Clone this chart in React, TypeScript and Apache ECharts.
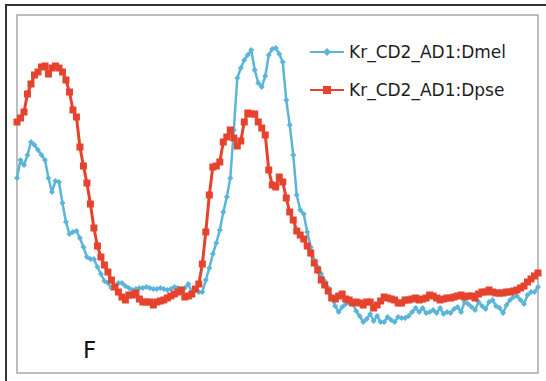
import React, { useEffect, useRef } from "react";
import * as echarts from "echarts";

const seriesNames = ["Kr_CD2_AD1:Dmel", "Kr_CD2_AD1:Dpse"];

const dmel = [
  195, 213, 208, 218, 231, 228, 223, 218, 213, 195,
  181, 192, 191, 170, 151, 139, 141, 142, 135, 126,
  116, 114, 114, 106, 99, 92, 90, 85, 87, 90,
  90, 87, 85, 83, 84, 85, 85, 86, 85, 84,
  84, 85, 84, 83, 84, 86, 85, 81, 85, 89,
  81, 83, 81, 81, 93, 105, 119, 130, 143, 161,
  176, 195, 243, 295, 305, 313, 318, 323, 303, 290,
  286, 297, 318, 324, 325, 319, 311, 273, 248, 218,
  178, 163, 159, 141, 126, 113, 106, 99, 92, 85,
  76, 67, 61, 66, 69, 70, 69, 62, 57, 51,
  54, 59, 52, 57, 51, 51, 56, 53, 51, 56,
  55, 55, 57, 61, 65, 61, 65, 60, 61, 63,
  60, 65, 59, 61, 60, 64, 66, 61, 71, 69,
  66, 63, 71, 67, 64, 71, 73, 67, 65, 60,
  68, 73, 76, 77, 73, 69, 78, 81, 81, 86,
];

const dpse = [
  251, 255, 261, 279, 289, 298, 301, 306, 307, 299,
  305, 307, 305, 301, 293, 281, 263, 256, 226, 207,
  190, 169, 145, 127, 116, 108, 101, 93, 86, 81,
  76, 73, 78, 78, 80, 74, 71, 71, 71, 68,
  71, 72, 73, 75, 77, 79, 81, 83, 76, 77,
  79, 84, 89, 109, 141, 178, 206, 207, 211, 231,
  236, 243, 235, 227, 232, 251, 260, 259, 259, 251,
  245, 238, 203, 188, 186, 196, 191, 175, 161, 153,
  142, 138, 134, 127, 120, 110, 103, 93, 88, 82,
  75, 74, 77, 79, 74, 73, 70, 71, 70, 68,
  71, 71, 65, 68, 72, 76, 75, 74, 73, 70,
  70, 73, 73, 74, 75, 73, 74, 75, 78, 77,
  75, 73, 74, 75, 75, 76, 77, 78, 76, 77,
  77, 75, 79, 81, 81, 83, 81, 80, 80, 80,
  81, 81, 82, 83, 85, 87, 91, 94, 97, 100,
];

const positions = dmel.map((_, i) => String(i + 1));

export default function App() {
  const ref = useRef<HTMLDivElement>(null);
  useEffect(() => {
    document.body.style.margin = "0";
    const chart = echarts.init(ref.current!, null, { renderer: "svg" });
    chart.setOption({
      animation: false,
      backgroundColor: "#ffffff",
      grid: {
        left: 17,
        top: 15,
        right: 8,
        bottom: 8,
        show: true,
        borderColor: "#a8a8a8",
        borderWidth: 1.5,
        backgroundColor: "transparent",
      },
      xAxis: {
        type: "category",
        data: positions,
        boundaryGap: false,
        axisLine: { show: false },
        axisTick: { show: false },
        axisLabel: { show: false },
        splitLine: { show: false },
      },
      yAxis: {
        type: "value",
        min: 0,
        max: 358,
        axisLine: { show: false },
        axisTick: { show: false },
        axisLabel: { show: false },
        splitLine: { show: false },
      },
      legend: {
        orient: "vertical",
        left: 304,
        top: 37,
        itemWidth: 34,
        itemHeight: 10,
        itemGap: 18,
        textStyle: {
          fontFamily: "DejaVu Sans",
          fontSize: 17,
          color: "#1e1e1e",
          lineHeight: 20,
        },
        data: seriesNames,
      },
      graphic: [
        {
          type: "rect",
          shape: { x: 6, y: 5, width: 620, height: 420 },
          style: { fill: "none", stroke: "#333333", lineWidth: 2 },
          silent: true,
        },
        {
          type: "text",
          x: 83,
          y: 350,
          style: {
            text: "F",
            fontFamily: "DejaVu Sans",
            fontSize: 23,
            fill: "#111111",
            verticalAlign: "middle",
            align: "left",
          },
        },
      ],
      series: [
        {
          name: seriesNames[0],
          type: "line",
          data: dmel,
          symbol: "diamond",
          symbolSize: 6,
          showAllSymbol: true,
          lineStyle: { color: "#5ab5d8", width: 2.5 },
          itemStyle: { color: "#5ab5d8" },
        },
        {
          name: seriesNames[1],
          type: "line",
          data: dpse,
          symbol: "rect",
          symbolSize: 7,
          showAllSymbol: true,
          lineStyle: { color: "#e6432e", width: 3 },
          itemStyle: { color: "#e6432e" },
        },
      ],
    });
    return () => chart.dispose();
  }, []);
  return <div ref={ref} style={{ width: 546, height: 381 }} />;
}
